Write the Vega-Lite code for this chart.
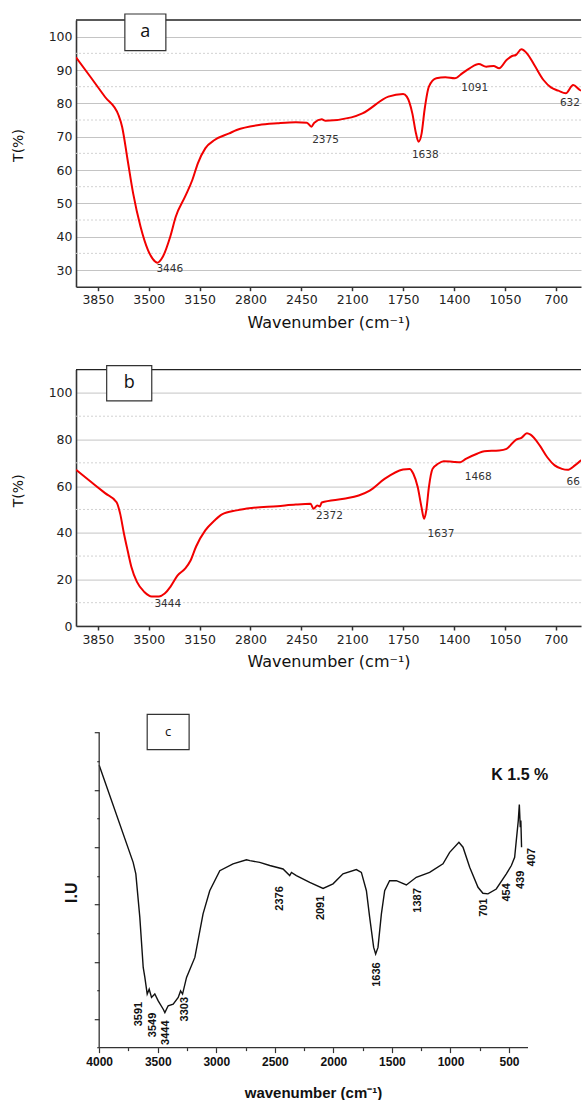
{
  "$schema": "https://vega.github.io/schema/vega-lite/v6.json",
  "padding": {"left": 11, "top": 13, "right": 0, "bottom": 0},
  "autosize": {"type": "pad"},
  "bounds": "flush",
  "spacing": 82.6,
  "config": {"view": {"stroke": null}, "axis": {"labelOverlap": false}},
  "datasets": {
    "a_line": [
      {"x": 4000, "y": 93.8}, {"x": 3900, "y": 87.9}, {"x": 3800, "y": 81.9}, {"x": 3708, "y": 76.5}, {"x": 3683, "y": 73}, {"x": 3645, "y": 63}, {"x": 3607, "y": 53},
      {"x": 3556, "y": 43}, {"x": 3505, "y": 36}, {"x": 3454, "y": 32.5}, {"x": 3441, "y": 32.2}, {"x": 3403, "y": 34},
      {"x": 3352, "y": 40}, {"x": 3314, "y": 46}, {"x": 3250, "y": 52}, {"x": 3200, "y": 57}, {"x": 3162, "y": 62},
      {"x": 3111, "y": 66.5}, {"x": 3047, "y": 69}, {"x": 2946, "y": 71}, {"x": 2895, "y": 72}, {"x": 2742, "y": 73.5},
      {"x": 2615, "y": 74}, {"x": 2488, "y": 74.3}, {"x": 2412, "y": 74.2}, {"x": 2381, "y": 73}, {"x": 2361, "y": 74.2},
      {"x": 2310, "y": 75.2}, {"x": 2284, "y": 74.8}, {"x": 2106, "y": 75.8}, {"x": 2030, "y": 77}, {"x": 1852, "y": 82},
      {"x": 1750, "y": 82.8}, {"x": 1725, "y": 82}, {"x": 1687, "y": 77}, {"x": 1662, "y": 71}, {"x": 1644, "y": 68.5},
      {"x": 1623, "y": 71}, {"x": 1603, "y": 78}, {"x": 1573, "y": 85}, {"x": 1522, "y": 87.5}, {"x": 1460, "y": 87.8},
      {"x": 1395, "y": 87.5}, {"x": 1344, "y": 89}, {"x": 1293, "y": 90.5}, {"x": 1230, "y": 91.8}, {"x": 1179, "y": 91},
      {"x": 1128, "y": 91.2}, {"x": 1090, "y": 90.5}, {"x": 1039, "y": 93}, {"x": 1001, "y": 94.2}, {"x": 975, "y": 94.5},
      {"x": 937, "y": 96.2}, {"x": 899, "y": 95}, {"x": 848, "y": 91.5}, {"x": 785, "y": 87}, {"x": 734, "y": 84.8},
      {"x": 683, "y": 83.8}, {"x": 632, "y": 83}, {"x": 581, "y": 85.5}, {"x": 535, "y": 84}, {"x": 527, "y": 83.8}
    ],
    "a_grid": [{"y": 35}, {"y": 45}, {"y": 55}, {"y": 65}, {"y": 75}, {"y": 85}, {"y": 95}],
    "a_labels": [
      {"x": 3355, "y": 30.3, "t": "3446"}, {"x": 2284, "y": 69.0, "t": "2375"}, {"x": 1598, "y": 64.6, "t": "1638"},
      {"x": 1258, "y": 84.6, "t": "1091"}, {"x": 603, "y": 80.1, "t": "632"}
    ],
    "a_box": [{"x": 3664, "x2": 3382, "y": 106.8, "y2": 95.8, "cx": 3523, "cy": 101.3, "t": "a"}],
    "b_line": [
      {"x": 4000, "y": 67}, {"x": 3900, "y": 62.0}, {"x": 3800, "y": 57.0}, {"x": 3721, "y": 53.1}, {"x": 3696, "y": 48.1}, {"x": 3670, "y": 39.6}, {"x": 3645, "y": 32.4},
      {"x": 3619, "y": 25.3}, {"x": 3581, "y": 18.9}, {"x": 3530, "y": 14.6}, {"x": 3479, "y": 12.7}, {"x": 3429, "y": 12.7},
      {"x": 3390, "y": 13.9}, {"x": 3352, "y": 16.7}, {"x": 3301, "y": 21.7}, {"x": 3250, "y": 24.6}, {"x": 3212, "y": 28.1},
      {"x": 3174, "y": 34.1}, {"x": 3111, "y": 41}, {"x": 3047, "y": 45.3}, {"x": 2996, "y": 47.9}, {"x": 2895, "y": 49.6},
      {"x": 2793, "y": 50.6}, {"x": 2615, "y": 51.4}, {"x": 2488, "y": 52.1}, {"x": 2387, "y": 52.4}, {"x": 2366, "y": 50.3},
      {"x": 2341, "y": 51.7}, {"x": 2323, "y": 51.3}, {"x": 2310, "y": 53}, {"x": 2158, "y": 54.6}, {"x": 2056, "y": 56},
      {"x": 1980, "y": 58.1}, {"x": 1878, "y": 63.1}, {"x": 1751, "y": 67.1}, {"x": 1706, "y": 67.4}, {"x": 1680, "y": 65.3},
      {"x": 1650, "y": 59.6}, {"x": 1624, "y": 51}, {"x": 1606, "y": 46}, {"x": 1591, "y": 49.6}, {"x": 1573, "y": 59.6},
      {"x": 1548, "y": 67.4}, {"x": 1510, "y": 69.6}, {"x": 1471, "y": 70.7}, {"x": 1400, "y": 70.4}, {"x": 1357, "y": 70.3},
      {"x": 1319, "y": 71.7}, {"x": 1242, "y": 73.9}, {"x": 1192, "y": 75}, {"x": 1090, "y": 75.3}, {"x": 1039, "y": 76},
      {"x": 975, "y": 79.9}, {"x": 937, "y": 80.7}, {"x": 899, "y": 82.7}, {"x": 874, "y": 82.1}, {"x": 810, "y": 77.4},
      {"x": 759, "y": 72.4}, {"x": 708, "y": 68.9}, {"x": 658, "y": 67.4}, {"x": 620, "y": 67}, {"x": 569, "y": 68.9},
      {"x": 535, "y": 70.7}, {"x": 527, "y": 71.2}
    ],
    "b_grid": [{"y": 10}, {"y": 30}, {"y": 50}, {"y": 70}, {"y": 90}],
    "b_labels": [
      {"x": 3369, "y": 9.6, "t": "3444"}, {"x": 2257, "y": 47.1, "t": "2372"}, {"x": 1490, "y": 39.6, "t": "1637"},
      {"x": 1234, "y": 63.9, "t": "1468"}, {"x": 580, "y": 61.7, "t": "66"}
    ],
    "b_box": [{"x": 3789, "x2": 3479, "y": 111.7, "y2": 96.6, "cx": 3634, "cy": 104.1, "t": "b"}],
    "c_line": [
      {"x": 4000, "y": 9.86}, {"x": 3710, "y": 6.47}, {"x": 3687, "y": 6.07}, {"x": 3653, "y": 4.55}, {"x": 3624, "y": 2.8},
      {"x": 3610, "y": 2.45}, {"x": 3590, "y": 1.87}, {"x": 3573, "y": 2.04}, {"x": 3553, "y": 1.75}, {"x": 3525, "y": 1.87},
      {"x": 3496, "y": 1.63}, {"x": 3453, "y": 1.34}, {"x": 3439, "y": 1.22}, {"x": 3411, "y": 1.46}, {"x": 3368, "y": 1.52},
      {"x": 3325, "y": 1.75}, {"x": 3305, "y": 1.98}, {"x": 3288, "y": 1.87}, {"x": 3254, "y": 2.45}, {"x": 3183, "y": 3.15},
      {"x": 3113, "y": 4.67}, {"x": 3056, "y": 5.48}, {"x": 2970, "y": 6.18}, {"x": 2857, "y": 6.42}, {"x": 2742, "y": 6.56},
      {"x": 2713, "y": 6.53}, {"x": 2629, "y": 6.47}, {"x": 2543, "y": 6.36}, {"x": 2430, "y": 6.24}, {"x": 2373, "y": 6.01},
      {"x": 2358, "y": 6.12}, {"x": 2316, "y": 6.01}, {"x": 2202, "y": 5.77}, {"x": 2088, "y": 5.56}, {"x": 2003, "y": 5.72},
      {"x": 1918, "y": 6.07}, {"x": 1804, "y": 6.22}, {"x": 1761, "y": 6.12}, {"x": 1718, "y": 5.48}, {"x": 1690, "y": 4.55},
      {"x": 1656, "y": 3.5}, {"x": 1639, "y": 3.27}, {"x": 1619, "y": 3.5}, {"x": 1590, "y": 4.67}, {"x": 1562, "y": 5.48},
      {"x": 1520, "y": 5.83}, {"x": 1462, "y": 5.83}, {"x": 1377, "y": 5.68}, {"x": 1292, "y": 5.95}, {"x": 1178, "y": 6.12},
      {"x": 1064, "y": 6.42}, {"x": 1007, "y": 6.82}, {"x": 928, "y": 7.17}, {"x": 893, "y": 7.0}, {"x": 836, "y": 6.3},
      {"x": 765, "y": 5.6}, {"x": 723, "y": 5.39}, {"x": 680, "y": 5.37}, {"x": 609, "y": 5.54}, {"x": 523, "y": 6.07},
      {"x": 480, "y": 6.36}, {"x": 452, "y": 6.65}, {"x": 438, "y": 7.23}, {"x": 421, "y": 7.93}, {"x": 412, "y": 8.49},
      {"x": 404, "y": 7.7}, {"x": 399, "y": 7.93}, {"x": 393, "y": 7.0}
    ],
    "c_labels": [
      {"x": 3661, "y": 1.17, "t": "3591"}, {"x": 3539, "y": 0.79, "t": "3549"}, {"x": 3433, "y": 0.52, "t": "3444"},
      {"x": 3269, "y": 1.34, "t": "3303"}, {"x": 2452, "y": 5.21, "t": "2376"}, {"x": 2102, "y": 4.88, "t": "2091"},
      {"x": 1625, "y": 2.55, "t": "1636"}, {"x": 1281, "y": 5.14, "t": "1387"}, {"x": 711, "y": 4.89, "t": "701"},
      {"x": 518, "y": 5.42, "t": "454"}, {"x": 395, "y": 5.86, "t": "439"}, {"x": 308, "y": 6.65, "t": "407"}
    ],
    "c_title": [{"x": 408, "y": 9.51, "t": "K 1.5 %"}],
    "c_box": [{"x": 3590, "x2": 3232, "y": 11.64, "y2": 10.41, "cx": 3411, "cy": 11.02, "t": "c"}],
    "one": [{}]
  },
  "vconcat": [
    {
      "width": 505,
      "height": 266.7,
      "layer": [
        {
          "data": {"name": "a_grid"},
          "mark": {"type": "rule", "color": "#d2d2d2", "strokeDash": [2, 2], "strokeWidth": 1, "clip": true},
          "encoding": {"y": {"field": "y", "type": "quantitative"}}
        },
        {"data": {"name": "one"}, "mark": {"type": "rule", "color": "#222222", "strokeWidth": 1.3}, "encoding": {"y": {"datum": 105, "type": "quantitative"}}},
        {
          "data": {"name": "a_line"},
          "mark": {"type": "line", "color": "#f20000", "strokeWidth": 2, "clip": true, "interpolate": "monotone"},
          "encoding": {
            "x": {"field": "x", "type": "quantitative", "scale": {"domain": [4000, 527], "nice": false, "zero": false},
              "axis": {"values": [3850, 3500, 3150, 2800, 2450, 2100, 1750, 1400, 1050, 700], "tickCount": 30, "labelOverlap": false, "format": "d", "grid": false,
                "ticks": true, "tickSize": 4, "tickColor": "#333333", "tickWidth": 1.5, "domainColor": "#333333", "domainWidth": 1.6,
                "labelFont": "DejaVu Sans", "labelFontSize": 12.5, "labelColor": "#222222", "labelPadding": 3,
                "title": "Wavenumber (cm⁻¹)", "titleFont": "DejaVu Sans", "titleFontSize": 16, "titleFontWeight": "normal",
                "titleColor": "#111111", "titleY": 36, "titleBaseline": "middle"}},
            "y": {"field": "y", "type": "quantitative", "scale": {"domain": [25, 105], "nice": false, "zero": false},
              "axis": {"values": [30, 40, 50, 60, 70, 80, 90, 100], "tickCount": 30, "labelOverlap": false, "ticks": false, "labelPadding": 4, "domainColor": "#333333", "domainWidth": 1.6,
                "grid": true, "gridColor": "#c4c4c4", "gridWidth": 1, "labelFont": "DejaVu Sans", "labelFontSize": 12.5, "labelColor": "#222222",
                "title": "T(%)", "titleFont": "DejaVu Sans", "titleFontSize": 14, "titleFontWeight": "normal", "titleColor": "#111111",
                "titleX": -57.7, "titleY": 125, "titleBaseline": "middle", "titleAngle": -90}},
            "order": {"field": "x", "sort": "descending"}
          }
        },
        {
          "data": {"name": "a_labels"},
          "mark": {"type": "text", "font": "DejaVu Sans", "fontSize": 10.5, "color": "#333333", "baseline": "middle", "align": "center"},
          "encoding": {"x": {"field": "x", "type": "quantitative"}, "y": {"field": "y", "type": "quantitative"}, "text": {"field": "t"}}
        },
        {
          "data": {"name": "a_box"},
          "mark": {"type": "rect", "fill": "white", "stroke": "#333333", "strokeWidth": 1.2},
          "encoding": {"x": {"field": "x", "type": "quantitative"}, "x2": {"field": "x2"}, "y": {"field": "y", "type": "quantitative"}, "y2": {"field": "y2"}}
        },
        {
          "data": {"name": "a_box"},
          "mark": {"type": "text", "font": "Open Sans", "fontSize": 18, "color": "#111111", "baseline": "middle", "align": "center"},
          "encoding": {"x": {"field": "cx", "type": "quantitative"}, "y": {"field": "cy", "type": "quantitative"}, "text": {"field": "t"}}
        }
      ]
    },
    {
      "width": 505,
      "height": 256.4,
      "layer": [
        {
          "data": {"name": "b_grid"},
          "mark": {"type": "rule", "color": "#d2d2d2", "strokeDash": [2, 2], "strokeWidth": 1, "clip": true},
          "encoding": {"y": {"field": "y", "type": "quantitative"}}
        },
        {"data": {"name": "one"}, "mark": {"type": "rule", "color": "#222222", "strokeWidth": 1.3}, "encoding": {"y": {"datum": 110, "type": "quantitative"}}},
        {
          "data": {"name": "b_line"},
          "mark": {"type": "line", "color": "#f20000", "strokeWidth": 2, "clip": true, "interpolate": "monotone"},
          "encoding": {
            "x": {"field": "x", "type": "quantitative", "scale": {"domain": [4000, 527], "nice": false, "zero": false},
              "axis": {"values": [3850, 3500, 3150, 2800, 2450, 2100, 1750, 1400, 1050, 700], "tickCount": 30, "labelOverlap": false, "format": "d", "grid": false,
                "ticks": true, "tickSize": 4, "tickColor": "#333333", "tickWidth": 1.5, "domainColor": "#333333", "domainWidth": 1.6,
                "labelFont": "DejaVu Sans", "labelFontSize": 12.5, "labelColor": "#222222", "labelPadding": 3,
                "title": "Wavenumber (cm⁻¹)", "titleFont": "DejaVu Sans", "titleFontSize": 16, "titleFontWeight": "normal",
                "titleColor": "#111111", "titleY": 35, "titleBaseline": "middle"}},
            "y": {"field": "y", "type": "quantitative", "scale": {"domain": [0, 110], "nice": false, "zero": false},
              "axis": {"values": [0, 20, 40, 60, 80, 100], "tickCount": 30, "labelOverlap": false, "ticks": false, "labelPadding": 4, "domainColor": "#333333", "domainWidth": 1.6,
                "grid": true, "gridColor": "#c4c4c4", "gridWidth": 1, "labelFont": "DejaVu Sans", "labelFontSize": 12.5, "labelColor": "#222222",
                "title": "T(%)", "titleFont": "DejaVu Sans", "titleFontSize": 14, "titleFontWeight": "normal", "titleColor": "#111111",
                "titleX": -57.7, "titleY": 120.7, "titleBaseline": "middle", "titleAngle": -90}},
            "order": {"field": "x", "sort": "descending"}
          }
        },
        {
          "data": {"name": "b_labels"},
          "mark": {"type": "text", "font": "DejaVu Sans", "fontSize": 10.5, "color": "#333333", "baseline": "middle", "align": "center"},
          "encoding": {"x": {"field": "x", "type": "quantitative"}, "y": {"field": "y", "type": "quantitative"}, "text": {"field": "t"}}
        },
        {
          "data": {"name": "b_box"},
          "mark": {"type": "rect", "fill": "white", "stroke": "#333333", "strokeWidth": 1.2},
          "encoding": {"x": {"field": "x", "type": "quantitative"}, "x2": {"field": "x2"}, "y": {"field": "y", "type": "quantitative"}, "y2": {"field": "y2"}}
        },
        {
          "data": {"name": "b_box"},
          "mark": {"type": "text", "font": "Open Sans", "fontSize": 18, "color": "#111111", "baseline": "middle", "align": "center"},
          "encoding": {"x": {"field": "cx", "type": "quantitative"}, "y": {"field": "cy", "type": "quantitative"}, "text": {"field": "t"}}
        }
      ]
    },
    {
      "width": 452,
      "height": 338.4,
      "resolve": {"axis": {"x": "independent", "y": "independent"}},
      "layer": [
        {
          "data": {"name": "c_line"},
          "mark": {"type": "line", "color": "#111111", "strokeWidth": 1.4},
          "encoding": {
            "x": {"field": "x", "type": "quantitative", "scale": {"domain": [4198, 338], "nice": false, "zero": false},
              "axis": {"orient": "bottom", "values": [4000, 3500, 3000, 2500, 2000, 1500, 1000, 500], "tickCount": 30, "labelOverlap": false,
                "format": "d", "domain": false, "grid": false, "ticks": true, "tickSize": 5, "tickColor": "#333333", "tickWidth": 1.2,
                "labelFont": "Liberation Sans", "labelFontWeight": "bold", "labelFontSize": 12, "labelColor": "#111111", "labelPadding": 4,
                "title": "wavenumber (cm⁻¹)", "titleFont": "Liberation Sans", "titleFontSize": 15, "titleFontWeight": "bold",
                "titleColor": "#111111", "titleX": 237, "titleY": 45, "titleBaseline": "middle"}},
            "y": {"field": "y", "type": "quantitative", "scale": {"domain": [0, 11.82], "nice": false, "zero": false},
              "axis": {"orient": "left", "values": [1, 3, 5, 7, 9, 11], "tickCount": 30, "offset": -23.25, "domain": false, "labels": false, "grid": false,
                "ticks": true, "tickSize": 5, "tickColor": "#333333", "tickWidth": 1.2,
                "title": "I.U", "titleFont": "Liberation Sans", "titleFontSize": 16, "titleFontWeight": "bold", "titleColor": "#111111",
                "titleX": -27.5, "titleY": 183, "titleBaseline": "middle", "titleAngle": -90}},
            "order": {"field": "x", "sort": "descending"}
          }
        },
        {
          "data": {"name": "one"},
          "mark": {"type": "rule", "color": "#333333", "strokeWidth": 1.3},
          "encoding": {"x": {"datum": 4000, "type": "quantitative", "axis": null}, "x2": {"datum": 338}, "y": {"datum": 0, "type": "quantitative", "axis": null}}
        },
        {
          "data": {"name": "one"},
          "mark": {"type": "rule", "color": "#333333", "strokeWidth": 1.3},
          "encoding": {"x": {"datum": 4000, "type": "quantitative", "axis": null}, "y": {"datum": 0, "type": "quantitative", "axis": null}, "y2": {"datum": 11}}
        },
        {
          "data": {"name": "c_labels"},
          "mark": {"type": "text", "font": "Liberation Sans", "fontWeight": "bold", "fontSize": 11, "color": "#111111", "baseline": "middle", "align": "center", "angle": 270},
          "encoding": {
            "x": {"field": "x", "type": "quantitative",
              "axis": {"orient": "bottom", "values": [3750, 3250, 2750, 2250, 1750, 1250, 750], "tickCount": 30, "domain": false, "labels": false, "grid": false,
                "ticks": true, "tickSize": 3, "tickColor": "#333333", "tickWidth": 1.2, "title": null}},
            "y": {"field": "y", "type": "quantitative",
              "axis": {"orient": "left", "values": [0, 2, 4, 6, 8, 10], "tickCount": 30, "offset": -23.25, "domain": false, "labels": false, "grid": false,
                "ticks": true, "tickSize": 2.5, "tickColor": "#333333", "tickWidth": 1.2, "title": null}},
            "text": {"field": "t"}
          }
        },
        {
          "data": {"name": "c_title"},
          "mark": {"type": "text", "font": "Liberation Sans", "fontWeight": "bold", "fontSize": 16, "color": "#111111", "baseline": "middle", "align": "center"},
          "encoding": {"x": {"field": "x", "type": "quantitative", "axis": null}, "y": {"field": "y", "type": "quantitative", "axis": null}, "text": {"field": "t"}}
        },
        {
          "data": {"name": "c_box"},
          "mark": {"type": "rect", "fill": "white", "stroke": "#333333", "strokeWidth": 1.2},
          "encoding": {"x": {"field": "x", "type": "quantitative", "axis": null}, "x2": {"field": "x2"}, "y": {"field": "y", "type": "quantitative", "axis": null}, "y2": {"field": "y2"}}
        },
        {
          "data": {"name": "c_box"},
          "mark": {"type": "text", "font": "Open Sans", "fontSize": 13, "color": "#111111", "baseline": "middle", "align": "center"},
          "encoding": {"x": {"field": "cx", "type": "quantitative", "axis": null}, "y": {"field": "cy", "type": "quantitative", "axis": null}, "text": {"field": "t"}}
        }
      ]
    }
  ]
}
